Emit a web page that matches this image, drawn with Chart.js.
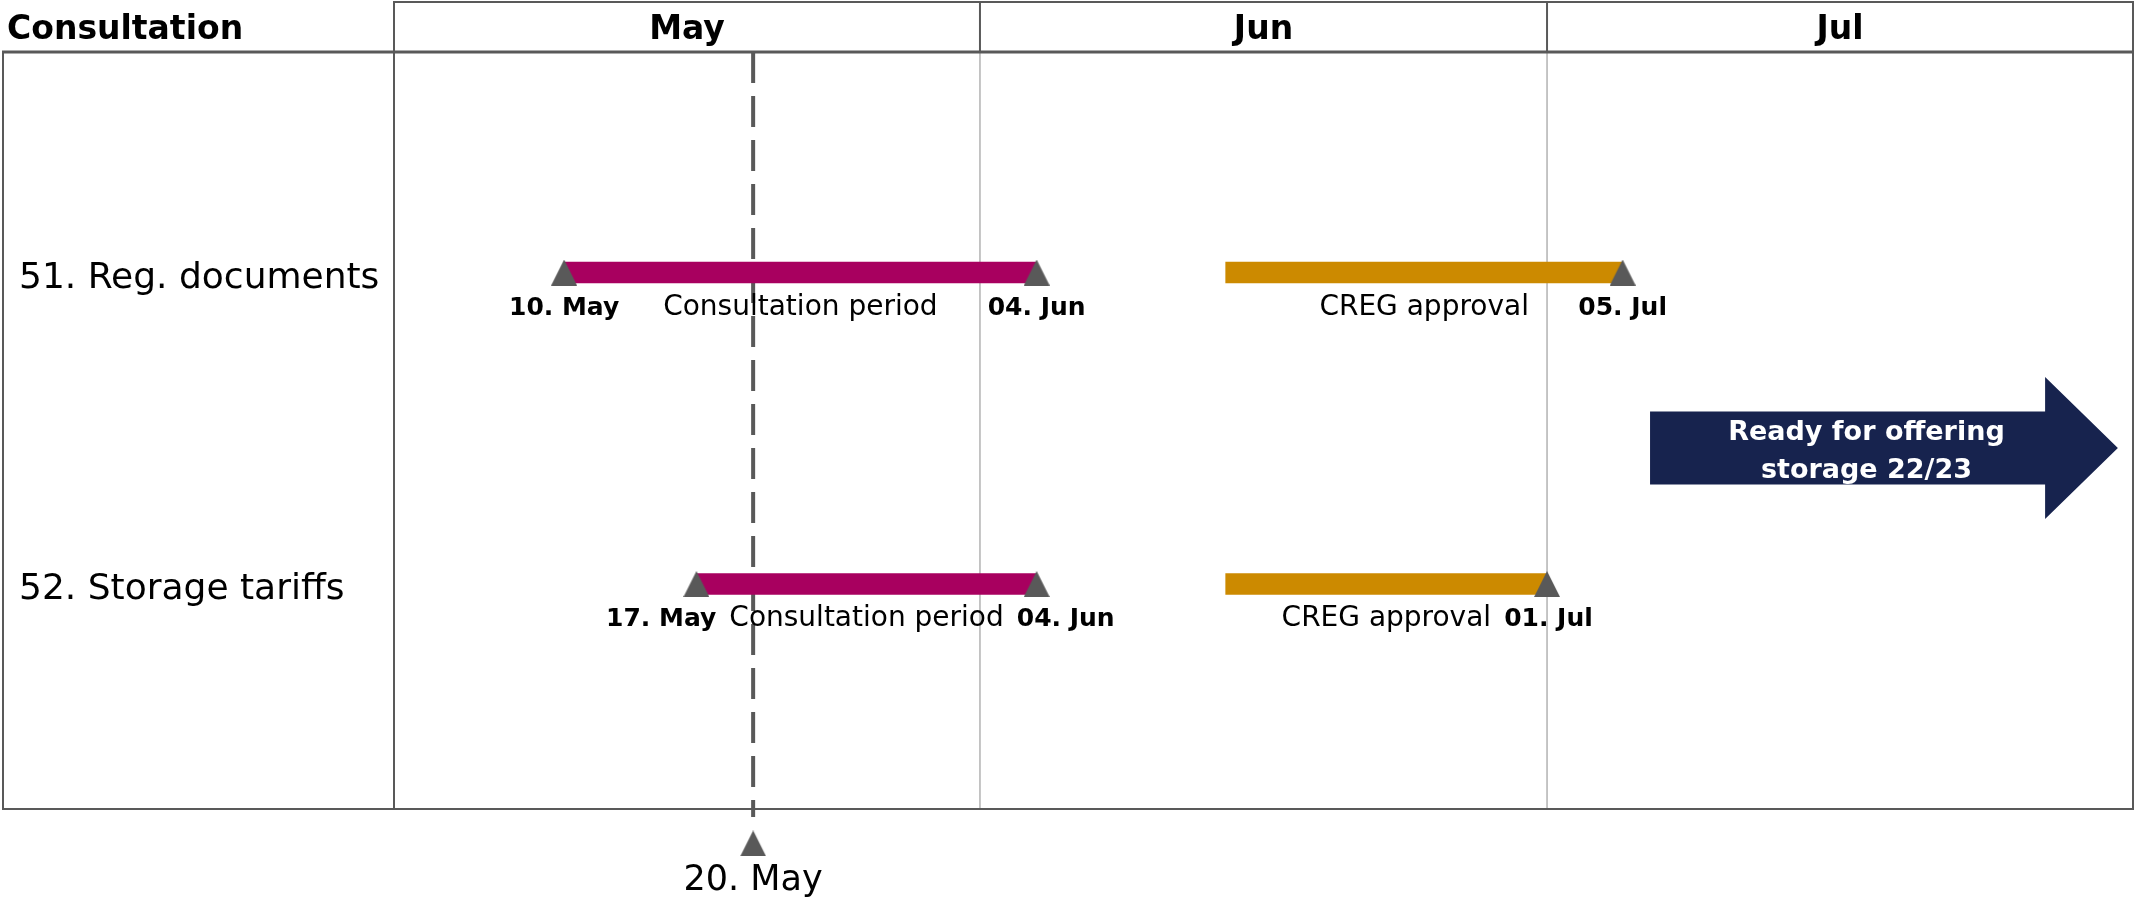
<!DOCTYPE html>
<html>
<head>
<meta charset="utf-8">
<script src="https://cdn.jsdelivr.net/npm/chart.js@4.4.1/dist/chart.umd.min.js"></script>
<style>
html, body { margin: 0; padding: 0; background: #ffffff; }
#wrap { width: 2136px; height: 902px; position: relative; }
</style>
</head>
<body>
<div id="wrap"><canvas id="chart" width="2136" height="902"></canvas></div>
<script>
// ---------------- data ----------------
const headerTitle = 'Consultation';
const tasks = ['51. Reg. documents', '52. Storage tariffs'];
const consultationStart = ['2022-05-10', '2022-05-17'];
const consultationEnd = ['2022-06-04', '2022-06-04'];
const approvalStart = ['2022-06-14', '2022-06-14'];
const approvalEnd = ['2022-07-05', '2022-07-01'];
const phaseLabels = ['Consultation period', 'CREG approval'];
const months = ['May', 'Jun', 'Jul'];
const monthStarts = ['2022-05-01', '2022-06-01', '2022-07-01', '2022-08-01'];
const milestoneDate = '2022-05-20';
const arrowText = ['Ready for offering', 'storage 22/23'];

// ---------------- helpers ----------------
const DAY_MS = 86400000;
const ORIGIN = Date.UTC(2022, 4, 1);
const dayOf = s => (Date.parse(s) - ORIGIN) / DAY_MS;
const MONTH_ABBR = ['Jan','Feb','Mar','Apr','May','Jun','Jul','Aug','Sep','Oct','Nov','Dec'];
const fmtDate = s => {
  const d = new Date(Date.parse(s));
  return String(d.getUTCDate()).padStart(2, '0') + '. ' + MONTH_ABBR[d.getUTCMonth()];
};

// layout constants (not data)
const FONT = '"DejaVu Sans"';
const Y_MIN = 0.2921, Y_MAX = 2.7223;          // vertical scale range
const MILESTONE_LINE_END = 2.748;              // a little below the frame
const MILESTONE_MARKER = 2.833;                // triangle below the frame
const ARROW = { start: 66.45, headStart: 87.35, tip: 91.2, centerY: 1.5634, bodyHalf: 36.5, headHalf: 71, textX: 77.9 };

const COLORS = {
  consultation: '#A8005F',
  approval: '#CC8A00',
  marker: '#595959',
  frame: '#595959',
  grid: '#A6A6A6',
  arrow: '#17234E'
};

function makeTriangle(w, h, color) {
  const c = document.createElement('canvas');
  c.width = w; c.height = h;
  const g = c.getContext('2d');
  g.fillStyle = color;
  g.beginPath();
  g.moveTo(0, h); g.lineTo(w / 2, 0); g.lineTo(w, h); g.closePath();
  g.fill();
  return c;
}
const tri = makeTriangle(26, 26, COLORS.marker);

const rowValue = tasks.map((t, i) => i + 1);
const consultData = tasks.map((t, i) => ({ y: rowValue[i], x: [dayOf(consultationStart[i]), dayOf(consultationEnd[i])] }));
const approvalData = tasks.map((t, i) => ({ y: rowValue[i], x: [dayOf(approvalStart[i]), dayOf(approvalEnd[i])] }));
const markerData = [];
tasks.forEach((t, i) => {
  markerData.push({ x: dayOf(consultationStart[i]), y: rowValue[i] });
  markerData.push({ x: dayOf(consultationEnd[i]), y: rowValue[i] });
  markerData.push({ x: dayOf(approvalEnd[i]), y: rowValue[i] });
});

function strokeLine(ctx, x1, y1, x2, y2) {
  ctx.beginPath(); ctx.moveTo(x1, y1); ctx.lineTo(x2, y2); ctx.stroke();
}

const timelinePlugin = {
  id: 'timeline',
  beforeDatasetsDraw(chart) {
    const { ctx, chartArea: a, scales: { x, y } } = chart;
    ctx.save();
    // month separators in the body (light)
    ctx.strokeStyle = COLORS.grid; ctx.lineWidth = 1.3;
    monthStarts.slice(1, -1).forEach(s => {
      const px = x.getPixelForValue(dayOf(s));
      strokeLine(ctx, px, a.top, px, a.bottom);
    });
    // header month separators (dark)
    ctx.strokeStyle = COLORS.frame; ctx.lineWidth = 2;
    monthStarts.slice(1, -1).forEach(s => {
      const px = x.getPixelForValue(dayOf(s));
      strokeLine(ctx, px, 2, px, a.top);
    });
    // frame
    ctx.lineWidth = 2;
    strokeLine(ctx, a.left, 2, a.right, 2);            // header top
    strokeLine(ctx, a.left, 1, a.left, a.bottom);      // label column divider
    strokeLine(ctx, a.right, 1, a.right, a.bottom + 1);// right border
    strokeLine(ctx, 3, a.top, 3, a.bottom + 1);        // left border
    strokeLine(ctx, 2, a.bottom, a.right + 1, a.bottom); // bottom border
    ctx.lineWidth = 3;
    strokeLine(ctx, 2, a.top, a.right + 1, a.top);     // header bottom

    // header texts
    ctx.fillStyle = '#000';
    ctx.textBaseline = 'alphabetic';
    ctx.font = 'bold 33px ' + FONT;
    ctx.textAlign = 'left';
    ctx.fillText(headerTitle, 7, 39);
    ctx.textAlign = 'center';
    months.forEach((m, i) => {
      const c = (x.getPixelForValue(dayOf(monthStarts[i])) + x.getPixelForValue(dayOf(monthStarts[i + 1]))) / 2;
      ctx.fillText(m, c, 39);
    });
    // row labels
    ctx.font = '36px ' + FONT;
    ctx.textAlign = 'left';
    tasks.forEach((t, i) => ctx.fillText(t, 19, y.getPixelForValue(rowValue[i]) + 15));
    ctx.restore();
  },
  afterDatasetsDraw(chart) {
    const { ctx, scales: { x, y } } = chart;
    ctx.save();
    ctx.fillStyle = '#000';
    ctx.textBaseline = 'alphabetic';
    const GAP = 13;
    function phase(s, e, cy, label, startText, endText) {
      const sp = x.getPixelForValue(s), ep = x.getPixelForValue(e);
      const base = cy + 42;
      ctx.font = '28px ' + FONT;
      const lw = ctx.measureText(label).width;
      const mc = (sp + ep) / 2;
      ctx.textAlign = 'center';
      ctx.fillText(label, mc, base);
      const l0 = mc - lw / 2, l1 = mc + lw / 2;
      ctx.font = 'bold 25px ' + FONT;
      if (startText) {
        const w = ctx.measureText(startText).width;
        let c = sp;
        if (c + w / 2 > l0 - GAP) c = l0 - GAP - w / 2;
        ctx.fillText(startText, c, base);
      }
      if (endText) {
        const w = ctx.measureText(endText).width;
        let c = ep;
        if (c - w / 2 < l1 + GAP) c = l1 + GAP + w / 2;
        ctx.fillText(endText, c, base);
      }
    }
    tasks.forEach((t, i) => {
      const cy = y.getPixelForValue(rowValue[i]);
      phase(dayOf(consultationStart[i]), dayOf(consultationEnd[i]), cy, phaseLabels[0], fmtDate(consultationStart[i]), fmtDate(consultationEnd[i]));
      phase(dayOf(approvalStart[i]), dayOf(approvalEnd[i]), cy, phaseLabels[1], null, fmtDate(approvalEnd[i]));
    });
    // milestone label
    ctx.font = '35px ' + FONT;
    ctx.textAlign = 'center';
    ctx.fillText(fmtDate(milestoneDate), x.getPixelForValue(dayOf(milestoneDate)), y.getPixelForValue(MILESTONE_MARKER) + 46.5);

    // arrow
    const x0 = x.getPixelForValue(ARROW.start), xh = x.getPixelForValue(ARROW.headStart), xt = x.getPixelForValue(ARROW.tip);
    const cy = y.getPixelForValue(ARROW.centerY);
    ctx.fillStyle = COLORS.arrow;
    ctx.beginPath();
    ctx.moveTo(x0, cy - ARROW.bodyHalf);
    ctx.lineTo(xh, cy - ARROW.bodyHalf);
    ctx.lineTo(xh, cy - ARROW.headHalf);
    ctx.lineTo(xt, cy);
    ctx.lineTo(xh, cy + ARROW.headHalf);
    ctx.lineTo(xh, cy + ARROW.bodyHalf);
    ctx.lineTo(x0, cy + ARROW.bodyHalf);
    ctx.closePath();
    ctx.fill();
    ctx.fillStyle = '#ffffff';
    ctx.font = 'bold 27px ' + FONT;
    ctx.textAlign = 'center';
    const tx = x.getPixelForValue(ARROW.textX);
    ctx.fillText(arrowText[0], tx, cy - 8);
    ctx.fillText(arrowText[1], tx, cy + 30);
    ctx.restore();
  }
};

new Chart(document.getElementById('chart'), {
  type: 'bar',
  data: {
    datasets: [
      {
        type: 'bar', label: phaseLabels[0], data: consultData, indexAxis: 'y', grouped: false,
        backgroundColor: COLORS.consultation, barThickness: 21, borderWidth: 0, order: 2
      },
      {
        type: 'bar', label: phaseLabels[1], data: approvalData, indexAxis: 'y', grouped: false,
        backgroundColor: COLORS.approval, barThickness: 21, borderWidth: 0, order: 2
      },
      {
        type: 'scatter', label: 'markers', data: markerData, pointStyle: tri,
        pointRadius: 14, pointHoverRadius: 14, clip: false, order: 0
      },
      {
        type: 'line', label: 'milestone', data: [
          { x: dayOf(milestoneDate), y: Y_MIN },
          { x: dayOf(milestoneDate), y: MILESTONE_LINE_END }
        ],
        borderColor: COLORS.marker, borderWidth: 4, borderDash: [31, 13],
        pointRadius: 0, fill: false, clip: false, order: 5, borderCapStyle: 'butt'
      },
      {
        type: 'scatter', label: 'milestone marker', data: [{ x: dayOf(milestoneDate), y: MILESTONE_MARKER }],
        pointStyle: tri, pointRadius: 60, pointHoverRadius: 60, clip: false, order: 0
      }
    ]
  },
  options: {
    responsive: false,
    animation: false,
    devicePixelRatio: 1,
    events: [],
    layout: { autoPadding: false, padding: { left: 394, right: 3, top: 52, bottom: 93 } },
    plugins: { legend: { display: false }, tooltip: { enabled: false } },
    scales: {
      x: { type: 'linear', display: false, offset: false, grid: { offset: false },
           min: dayOf(monthStarts[0]), max: dayOf(monthStarts[monthStarts.length - 1]) },
      y: { type: 'linear', display: false, offset: false, grid: { offset: false },
           reverse: true, min: Y_MIN, max: Y_MAX }
    }
  },
  plugins: [timelinePlugin]
});
</script>
</body>
</html>
